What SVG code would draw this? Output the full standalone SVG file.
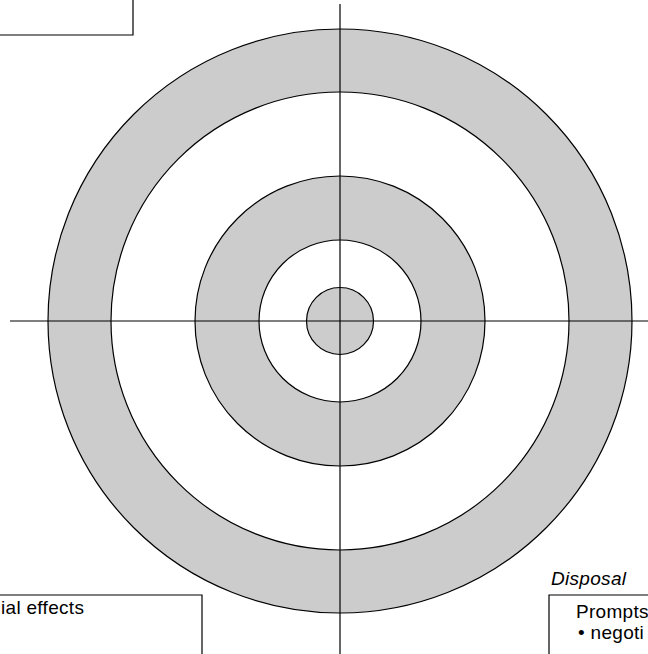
<svg xmlns="http://www.w3.org/2000/svg" width="648" height="654" viewBox="0 0 648 654">
<style>
.ln{stroke:#000;stroke-width:1.2;fill:none}
.band{fill:#cccccc;stroke:#000;stroke-width:1.2}
.hole{fill:#fff;stroke:#000;stroke-width:1.2}
.box{fill:#fff;stroke:#000;stroke-width:1.2}
.t{font-family:"Liberation Sans",Arial,sans-serif;font-size:19px;letter-spacing:0.3px;fill:#000}
.it{font-style:italic}
</style>
<rect width="648" height="654" fill="#fff"/>
<g id="box-top-left">
<path class="ln" d="M0 35H133V0"/>
</g>
<g id="target">
<circle class="band" cx="340" cy="321" r="292"/>
<circle class="hole" cx="340" cy="321" r="229"/>
<circle class="band" cx="340" cy="321" r="145"/>
<circle class="hole" cx="340" cy="321" r="81"/>
<circle class="band" cx="340" cy="321" r="33.5"/>
</g>
<g id="connectors">
<line class="ln" x1="10" y1="321" x2="648" y2="321"/>
<line class="ln" x1="340" y1="4" x2="340" y2="654"/>
</g>
<g id="box-bottom-left">
<path class="box" d="M-2 595H202V656H-2Z"/>
<text class="t" x="1" y="614">ial effects</text>
</g>
<g id="box-disposal">
<text class="t it" x="551" y="585">Disposal</text>
<path class="box" d="M549 656V595H650V656Z"/>
<text class="t" x="576" y="618">Prompts</text>
<text class="t" x="578" y="639">• negoti</text>
</g>
</svg>
